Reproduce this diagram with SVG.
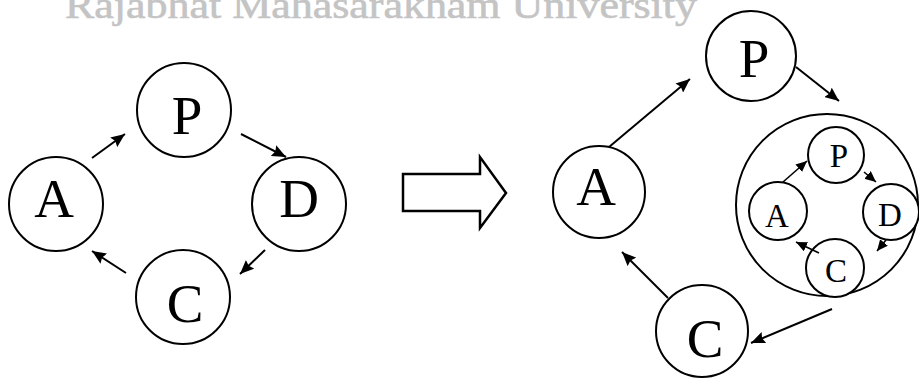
<svg xmlns="http://www.w3.org/2000/svg" width="919" height="379" viewBox="0 0 919 379">
<defs>
<style>
.n{fill:#fff;stroke:#000;stroke-width:2}
.t{font-family:"Liberation Serif","Times New Roman",serif;fill:#000;text-anchor:middle}
.big{font-size:55px}
.sm{font-size:33px}
.c{stroke:#000;stroke-width:2;fill:none}
.ci{stroke:#000;stroke-width:1.6;fill:none}
</style>
<marker id="ah" markerUnits="userSpaceOnUse" markerWidth="14" markerHeight="12" refX="14" refY="6" orient="auto" viewBox="0 0 14 12"><path d="M0,0 L14,6 L0,12 L2,6 z" fill="#000"/></marker>
<marker id="ahs" markerUnits="userSpaceOnUse" markerWidth="11" markerHeight="10" refX="11" refY="5" orient="auto" viewBox="0 0 11 10"><path d="M0,0 L11,5 L0,10 z" fill="#000"/></marker>
</defs>
<rect width="919" height="379" fill="#fff"/>
<text x="65" y="18" font-family="'Liberation Serif','Times New Roman',serif" font-size="37" fill="#c4c4c4" stroke="#c4c4c4" stroke-width="0.6" textLength="632" lengthAdjust="spacingAndGlyphs">Rajabhat Mahasarakham University</text>

<g id="left-P"><circle class="n" cx="184" cy="110" r="47"/><text class="t big" x="187" y="134">P</text></g>
<g id="left-A"><circle class="n" cx="56" cy="204" r="47"/><text class="t big" x="54" y="217">A</text></g>
<g id="left-D"><circle class="n" cx="299" cy="204" r="47"/><text class="t big" x="299" y="217">D</text></g>
<g id="left-C"><circle class="n" cx="183" cy="297" r="47"/><text class="t big" x="185" y="322">C</text></g>

<g id="block-arrow"><polygon points="403,174 480,174 480,157 506,193 480,228 480,211 403,211" fill="#fff" stroke="#000" stroke-width="2.5" stroke-linejoin="miter"/></g>

<g id="right-P"><circle class="n" cx="751" cy="56" r="45"/><text class="t big" x="754" y="77">P</text></g>
<g id="right-A"><circle class="n" cx="599" cy="192" r="46"/><text class="t big" x="596" y="205">A</text></g>
<g id="right-C"><circle class="n" cx="702" cy="331" r="46"/><text class="t big" x="705" y="357">C</text></g>
<g id="right-cycle"><circle class="n" cx="827" cy="205" r="91"/></g>
<g id="inner-P"><circle class="n" cx="836" cy="155" r="28"/><text class="t sm" x="839" y="167">P</text></g>
<g id="inner-A"><circle class="n" cx="778" cy="211" r="29"/><text class="t sm" x="777" y="227">A</text></g>
<g id="inner-D"><circle class="n" cx="891" cy="212" r="28"/><text class="t sm" x="890" y="226">D</text></g>
<g id="inner-C"><circle class="n" cx="835" cy="268" r="29"/><text class="t sm" x="836" y="282">C</text></g>

<g id="connectors">
<line class="c" x1="92" y1="158" x2="125" y2="134" marker-end="url(#ah)"/>
<line class="c" x1="241" y1="134" x2="286" y2="157" marker-end="url(#ah)"/>
<line class="c" x1="265" y1="250" x2="240" y2="274" marker-end="url(#ah)"/>
<line class="c" x1="126" y1="273" x2="92" y2="251" marker-end="url(#ah)"/>

<line class="c" x1="609" y1="147" x2="690" y2="79" marker-end="url(#ah)"/>
<line class="c" x1="796" y1="67" x2="839" y2="101" marker-end="url(#ah)"/>
<line class="c" x1="832" y1="309" x2="751" y2="343" marker-end="url(#ah)"/>
<line class="c" x1="668" y1="298" x2="622" y2="252" marker-end="url(#ah)"/>

<line class="ci" x1="783" y1="182" x2="807" y2="161" marker-end="url(#ahs)"/>
<line class="ci" x1="864" y1="172" x2="876" y2="182" marker-end="url(#ahs)"/>
<line class="ci" x1="886" y1="240" x2="877" y2="251" marker-end="url(#ahs)"/>
<line class="ci" x1="819" y1="253" x2="796" y2="242" marker-end="url(#ahs)"/>
</g>
</svg>
